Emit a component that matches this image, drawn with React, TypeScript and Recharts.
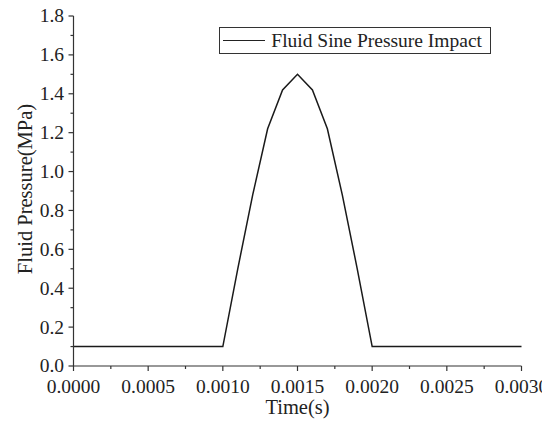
import React from 'react';
import { LineChart, Line, XAxis, YAxis } from 'recharts';

const times = [
  0, 0.0001, 0.0002, 0.0003, 0.0004, 0.0005, 0.0006, 0.0007, 0.0008, 0.0009,
  0.001, 0.0011, 0.0012, 0.0013, 0.0014, 0.0015, 0.0016, 0.0017, 0.0018, 0.0019,
  0.002, 0.0021, 0.0022, 0.0023, 0.0024, 0.0025, 0.0026, 0.0027, 0.0028, 0.0029, 0.003,
];
const pressures = [
  0.1, 0.1, 0.1, 0.1, 0.1, 0.1, 0.1, 0.1, 0.1, 0.1,
  0.1, 0.5, 0.88, 1.22, 1.42, 1.5, 1.42, 1.22, 0.88, 0.5,
  0.1, 0.1, 0.1, 0.1, 0.1, 0.1, 0.1, 0.1, 0.1, 0.1, 0.1,
];
const xTicks = [0, 0.00025, 0.0005, 0.00075, 0.001, 0.00125, 0.0015, 0.00175, 0.002, 0.00225, 0.0025, 0.00275, 0.003];
const yTicks = [0, 0.1, 0.2, 0.3, 0.4, 0.5, 0.6, 0.7, 0.8, 0.9, 1.0, 1.1, 1.2, 1.3, 1.4, 1.5, 1.6, 1.7, 1.8];
const seriesName = 'Fluid Sine Pressure Impact';
const xLabel = 'Time(s)';
const yLabel = 'Fluid Pressure(MPa)';

const data = times.map((t, i) => ({ t, p: pressures[i] }));

const FONT = '"Liberation Serif", "Times New Roman", serif';
const AXIS = '#333';
const FS = 19.5;
const LFS = 20.5;

const XTick = (props: any) => {
  const { x, y, index } = props;
  const major = index % 2 === 0;
  return (
    <g>
      <line x1={x} y1={y} x2={x} y2={y + (major ? 5 : 3)} stroke={AXIS} strokeWidth={1.2} />
      {major && (
        <text x={x} y={y + 27.4} textAnchor="middle" fontFamily={FONT} fontSize={FS} fill="#222">
          {Number(props.payload.value).toFixed(4)}
        </text>
      )}
    </g>
  );
};

const YTick = (props: any) => {
  const { x, y, index } = props;
  const major = index % 2 === 0;
  return (
    <g>
      <line x1={x} y1={y} x2={x - (major ? 5 : 3)} y2={y} stroke={AXIS} strokeWidth={1.2} />
      {major && (
        <text x={x - 9.5} y={y + 6.4} textAnchor="end" fontFamily={FONT} fontSize={FS} fill="#222">
          {Number(props.payload.value).toFixed(1)}
        </text>
      )}
    </g>
  );
};

const LegendBox = () => (
  <div
    style={{
      position: 'absolute',
      left: 219.3,
      top: 26.7,
      boxSizing: 'border-box',
      width: 272,
      height: 27.5,
      border: '1.3px solid #333',
      background: '#fff',
      display: 'flex',
      alignItems: 'center',
      fontFamily: FONT,
      fontSize: FS,
      color: '#222',
      lineHeight: 1,
    }}
  >
    <span style={{ display: 'inline-block', width: 42, height: 1.5, background: '#222', marginLeft: 2.5 }} />
    <span style={{ marginLeft: 6.5, whiteSpace: 'nowrap' }}>{seriesName}</span>
  </div>
);

export default function App() {
  return (
    <div style={{ position: 'relative', width: 550, height: 421, margin: '-8px 0 0 -8px' }}>
      <LineChart width={550} height={421} data={data} margin={{ top: 16, right: 28.5, bottom: 0, left: 0 }}>
        <XAxis
          dataKey="t"
          type="number"
          domain={[0, 0.003]}
          ticks={xTicks}
          interval={0}
          tickSize={0}
          tickMargin={0}
          tickLine={false}
          axisLine={{ stroke: AXIS, strokeWidth: 1.2 }}
          tick={<XTick />}
          height={55}
          label={{
            content: () => (
              <text x={297.5} y={414} textAnchor="middle" fontFamily={FONT} fontSize={LFS} fill="#222">
                {xLabel}
              </text>
            ),
          }}
        />
        <YAxis
          type="number"
          domain={[0, 1.8]}
          ticks={yTicks}
          interval={0}
          tickSize={0}
          tickMargin={0}
          tickLine={false}
          axisLine={{ stroke: AXIS, strokeWidth: 1.2 }}
          tick={<YTick />}
          width={73.5}
          label={{
            content: () => (
              <text
                x={32}
                y={189}
                transform="rotate(-90, 32, 189)"
                textAnchor="middle"
                fontFamily={FONT}
                fontSize={LFS}
                fill="#222"
              >
                {yLabel}
              </text>
            ),
          }}
        />
        <Line type="linear" dataKey="p" name={seriesName} stroke="#1a1a1a" strokeWidth={1.5} dot={false} isAnimationActive={false} />
      </LineChart>
      <LegendBox />
    </div>
  );
}
